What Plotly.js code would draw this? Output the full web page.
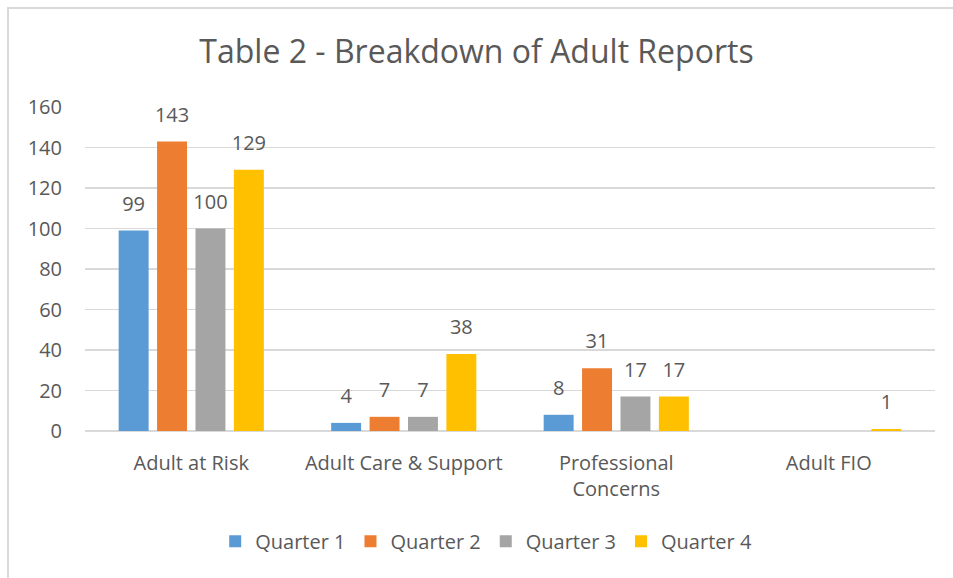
<!DOCTYPE html>
<html>
<head>
<meta charset="utf-8">
<script src="https://cdn.plot.ly/plotly-3.0.1.min.js"></script>
<style>
html,body{margin:0;padding:0;background:#fff;}
#wrap{position:relative;width:953px;height:578px;overflow:hidden;}
#chart{width:953px;height:578px;}
#frame{position:absolute;left:7px;top:7px;width:960px;height:590px;border:2px solid #d9d9d9;pointer-events:none;}
</style>
</head>
<body>
<div id="wrap"><div id="chart"></div><div id="frame"></div></div>
<script>
const categories = ["Adult at Risk", "Adult Care & Support", "Professional<br>Concerns", "Adult FIO"];
const seriesNames = ["Quarter 1", "Quarter 2", "Quarter 3", "Quarter 4"];
const quarter1 = [99, 4, 8, null];
const quarter2 = [143, 7, 31, null];
const quarter3 = [100, 7, 17, null];
const quarter4 = [129, 38, 17, 1];
const colors = ["#5B9BD5", "#ED7D31", "#A5A5A5", "#FFC000"];
const yTicks = [0, 20, 40, 60, 80, 100, 120, 140, 160];

const font = "Open Sans, sans-serif";
const txt = "#595959";
const allSeries = [quarter1, quarter2, quarter3, quarter4];
const barTraces = allSeries.map((vals, i) => ({
  type: "bar",
  name: seriesNames[i],
  x: categories,
  y: vals,
  offsetgroup: String(i),
  marker: {color: colors[i], line: {width: 0}},
  hoverinfo: "x+y+name"
}));
const labelTraces = allSeries.map((vals, i) => ({
  type: "scatter",
  mode: "markers+text",
  name: seriesNames[i] + " labels",
  showlegend: false,
  x: categories,
  y: vals,
  offsetgroup: String(i),
  text: vals.map(v => v === null ? "" : String(v)),
  textposition: "top center",
  cliponaxis: false,
  textfont: {family: font, size: 20, color: txt},
  marker: {size: 22, opacity: 0, color: colors[i]},
  hoverinfo: "skip"
}));

const layout = {
  width: 953, height: 578,
  margin: {l: 85, r: 18, t: 107, b: 147},
  paper_bgcolor: "#fff", plot_bgcolor: "#fff",
  title: {text: "Table 2 - Breakdown of Adult Reports", font: {family: font, size: 32, color: txt}, x: 0.5, xanchor: "center", y: 0.91, yanchor: "middle"},
  barmode: "group",
  scattermode: "group",
  bargap: 0.277,
  scattergap: 0.277,
  bargroupgap: 0.22,
  font: {family: font, size: 20, color: txt},
  xaxis: {tickfont: {family: font, size: 20, color: txt}, showgrid: false, showline: false, ticks: "", ticklabelstandoff: 18, automargin: false},
  yaxis: {range: [0, 160], tickvals: yTicks, ticktext: yTicks.map(String), showgrid: true, gridcolor: "#d9d9d9", gridwidth: 1.5, zeroline: true, zerolinecolor: "#d9d9d9", zerolinewidth: 1.5, tickfont: {family: font, size: 20, color: txt}, ticks: "", ticklabelstandoff: 22, automargin: false},
  legend: {orientation: "h", x: 0.472, xanchor: "center", y: -0.34, yanchor: "middle", font: {family: font, size: 20, color: txt}, itemwidth: 30, traceorder: "normal"},
  showlegend: true
};

Plotly.newPlot("chart", barTraces.concat(labelTraces), layout, {displayModeBar: false, staticPlot: true});
</script>
</body>
</html>
